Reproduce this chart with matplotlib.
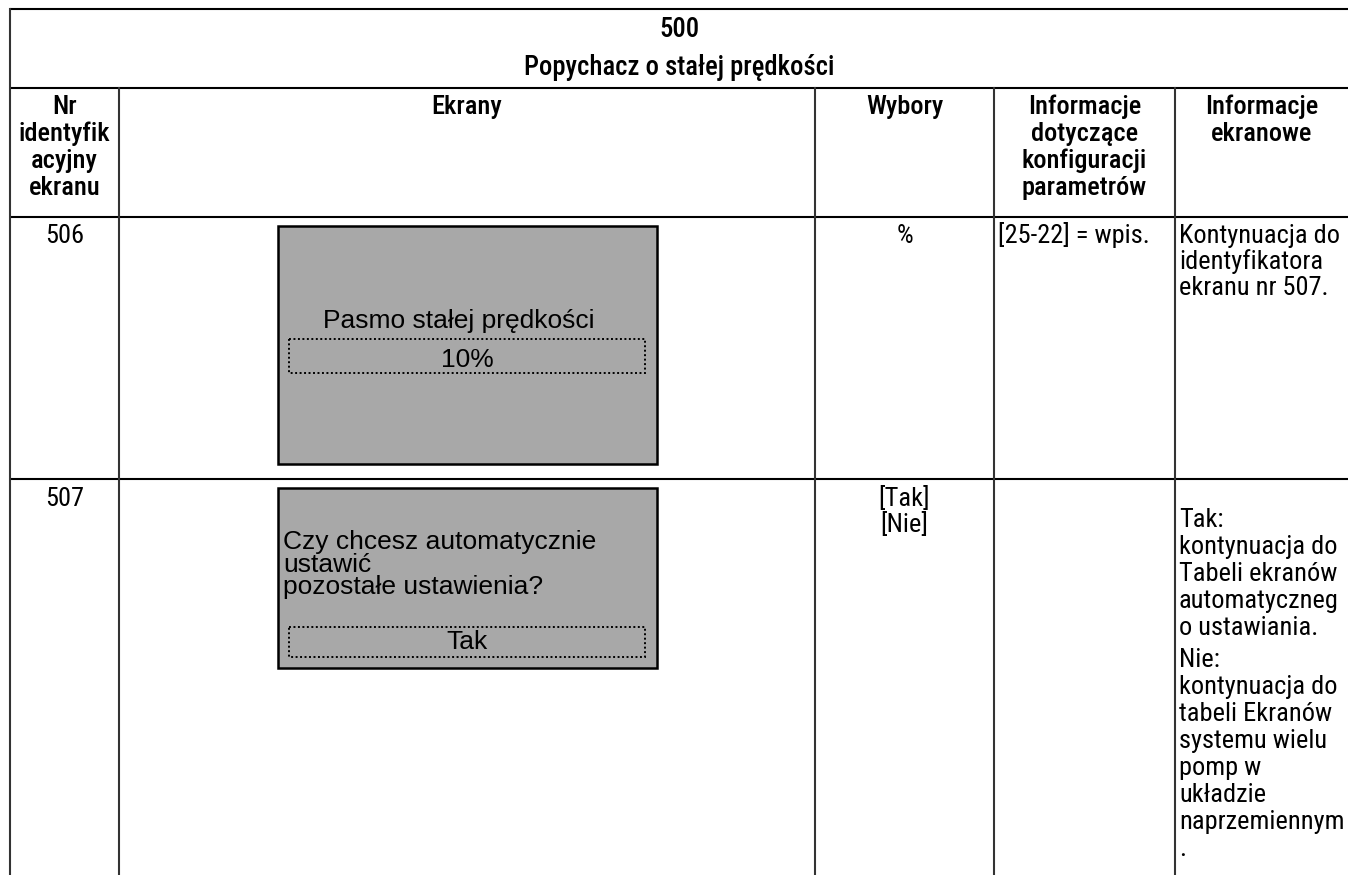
import matplotlib
matplotlib.use("Agg")
import matplotlib.pyplot as plt
from matplotlib.patches import Rectangle

# ---------------- data ----------------
title_number = "500"
title_text = "Popychacz o stałej prędkości"
header_labels = [
    ["Nr", "identyfik", "acyjny", "ekranu"],
    ["Ekrany"],
    ["Wybory"],
    ["Informacje", "dotyczące", "konfiguracji", "parametrów"],
    ["Informacje", "ekranowe"],
]
screen_ids = ["506", "507"]
screen_prompts = [
    ["Pasmo stałej prędkości"],
    ["Czy chcesz automatycznie", "ustawić", "pozostałe ustawienia?"],
]
screen_values = ["10%", "Tak"]
choices = [["%"], ["[Tak]", "[Nie]"]]
param_info = [["[25-22] = wpis."], []]
screen_info = [
    [["Kontynuacja do", "identyfikatora", "ekranu nr 507."]],
    [["Tak:", "kontynuacja do", "Tabeli ekranów", "automatyczneg", "o ustawiania."],
     ["Nie:", "kontynuacja do", "tabeli Ekranów", "systemu wielu", "pomp w",
      "układzie", "naprzemiennym", "."]],
]

# ---------------- layout ----------------
W, H = 1348, 875
fig = plt.figure(figsize=(W / 100, H / 100), dpi=100)
ax = fig.add_axes([0, 0, 1, 1])
ax.set_xlim(0, W)
ax.set_ylim(H, 0)
ax.axis("off")

NARROW = ["Roboto Condensed", "Liberation Sans", "DejaVu Sans"]
REG = ["Liberation Sans", "DejaVu Sans"]

col_x = [10, 119, 815, 994, 1175, W]
row_y = [9, 88, 217, 479, H]
col_c = [(col_x[i] + col_x[i + 1]) / 2 for i in range(5)]

LINE = "#333333"
for y in row_y[:4]:
    ax.plot([col_x[0], W], [y, y], color="black", lw=1.5, solid_capstyle="butt")
ax.plot([col_x[0], col_x[0]], [row_y[0], H], color=LINE, lw=1.5)
for x in col_x[1:5]:
    ax.plot([x, x], [row_y[1], H], color=LINE, lw=1.5)


def lines(x, y0, txts, step, ha="center", size=19, family=NARROW, weight="normal"):
    for i, t in enumerate(txts):
        ax.text(x, y0 + i * step, t, ha=ha, va="baseline", fontsize=size,
                family=family, color="black", fontweight=weight)


# title
TSZ = 19.2
xc = (col_x[0] + W) / 2
lines(xc, 37, [title_number], 0, size=TSZ, weight=500)
lines(xc, 75, [title_text], 0, size=TSZ, weight=500)

# headers
HSZ = 19
for i, lab in enumerate(header_labels):
    lines(col_c[i], 114, lab, 27, size=HSZ, weight=500)

# body rows
BSZ = 19
row_base = [243, 506]
for r in range(2):
    yb = row_base[r]
    lines(col_c[0], yb, [screen_ids[r]], 26, size=BSZ)
    lines(col_c[2], yb, choices[r], 26, size=BSZ)
    if param_info[r]:
        lines(col_x[3] + 4, yb, param_info[r], 26, ha="left", size=BSZ)

lines(col_x[4] + 4, row_base[0], screen_info[0][0], 26, ha="left", size=BSZ)
y = 527
for para in screen_info[1]:
    lines(col_x[4] + 4, y, para, 27, ha="left", size=BSZ)
    y += len(para) * 27 + 5

# screen boxes
boxes = [(278, 226, 657, 464), (278, 488, 657, 668)]
dotted = [(289, 339, 645, 373), (289, 627, 645, 657)]
for (x0, y0, x1, y1) in boxes:
    ax.add_patch(Rectangle((x0, y0), x1 - x0, y1 - y0, facecolor="#a8a8a8",
                           edgecolor="black", lw=1.8, zorder=2))
for (x0, y0, x1, y1) in dotted:
    ax.add_patch(Rectangle((x0, y0), x1 - x0, y1 - y0, facecolor="none",
                           edgecolor="black", lw=1.4, linestyle=(0, (1, 1.3)), zorder=3))

SSZ = 19
ax.text(459, 328, screen_prompts[0][0], ha="center", va="baseline", fontsize=SSZ,
        family=REG, zorder=4)
ax.text(467, 367, screen_values[0], ha="center", va="baseline", fontsize=SSZ,
        family=REG, zorder=4)
for t, yb in zip(screen_prompts[1], [549, 572, 594]):
    ax.text(283, yb, t, ha="left", va="baseline", fontsize=SSZ, family=REG, zorder=4)
ax.text(467, 649, screen_values[1], ha="center", va="baseline", fontsize=SSZ,
        family=REG, zorder=4)

fig.savefig("out.png", dpi=100)
